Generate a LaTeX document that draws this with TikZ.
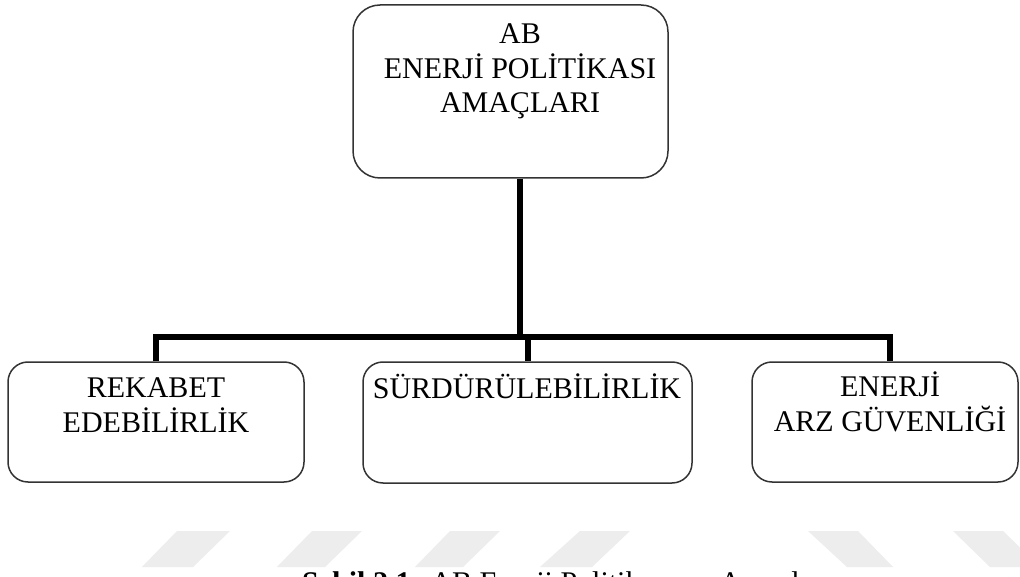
\documentclass[tikz,border=0pt]{standalone}
\usepackage{fontspec}
\setmainfont{Liberation Serif}
\begin{document}
\begin{tikzpicture}[x=1pt,y=-1pt,
  box/.style={draw=black!80, line width=1.5pt, rounded corners=20pt, inner sep=0pt},
  lbl/.style={font=\fontsize{30}{34.5}\selectfont, align=center, anchor=base, inner sep=0pt},
  conn/.style={draw=black, line width=6pt},
  wm/.style={fill=black!7, draw=none}]
\useasboundingbox (0,0) rectangle (1020,577);
\fill[white] (0,0) rectangle (1020,577);
% watermark stripes
\path[wm] (142,567) -- (193,567) -- (230,531) -- (177,531) -- cycle;
\path[wm] (277,567) -- (325,567) -- (362,531) -- (312,531) -- cycle;
\path[wm] (415,567) -- (463,567) -- (500,531) -- (450,531) -- cycle;
\path[wm] (540,567) -- (592,567) -- (630,531) -- (580,531) -- cycle;
\path[wm] (808,531) -- (858,531) -- (893,567) -- (847,567) -- cycle;
\path[wm] (953,531) -- (1003,531) -- (1040,567) -- (990,567) -- cycle;
% boxes
\node[box, rounded corners=27pt, minimum width=315pt, minimum height=173pt] (top) at (510.5,91.5) {};
\node[box, minimum width=296pt, minimum height=120pt] (lbox) at (156,422) {};
\node[box, minimum width=329pt, minimum height=121pt] (mbox) at (527.5,422.5) {};
\node[box, minimum width=266pt, minimum height=120pt] (rbox) at (885,422) {};
% texts (anchor = baseline of the last line)
\node[lbl] (ttext) at (520,113) {AB\\ENERJİ POLİTİKASI\\AMAÇLARI};
\node[lbl] (ltext) at (156,432) {REKABET\\EDEBİLİRLİK};
\node[lbl] (mtext) at (527,398) {SÜRDÜRÜLEBİLİRLİK};
\node[lbl] (rtext) at (890,431) {ENERJİ\\ARZ GÜVENLİĞİ};
% connectors
\coordinate (bar) at (520,337);
\draw[conn] (top.south -| ttext.base) -- (bar);
\draw[conn] (lbox.north -| ltext.base) |- (bar) -| (rbox.north -| rtext.base);
\draw[conn] (bar -| mbox.north) -- (mbox.north);
% caption (cut by the page edge)
\node[anchor=base west, font=\fontsize{30}{34.5}\selectfont, inner sep=0pt] (cap) at (302,592) {\textbf{Şekil 2.1:} AB Enerji Politikasının Amaçları};
\end{tikzpicture}
\end{document}
